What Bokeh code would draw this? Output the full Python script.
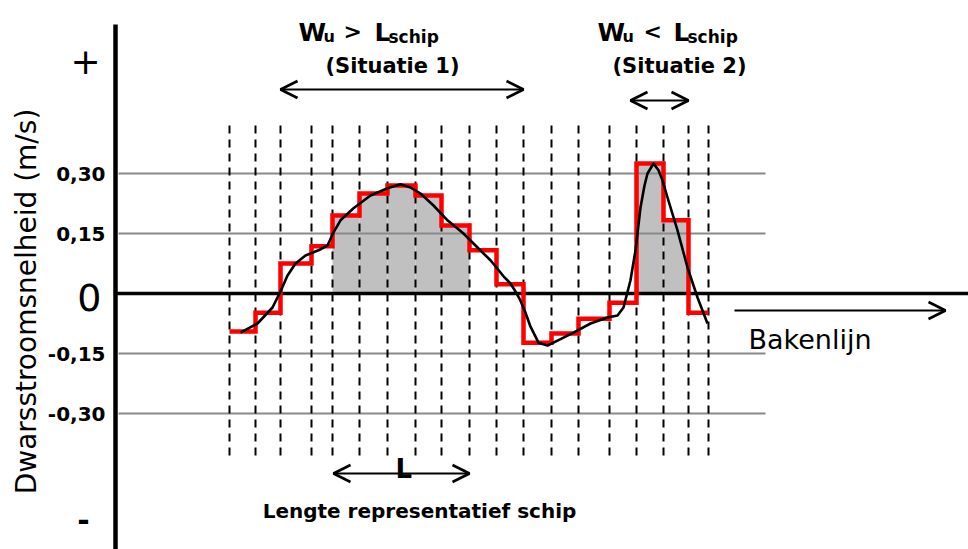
import math
from bokeh.plotting import figure
from bokeh.models import Range1d, Label, Arrow, OpenHead
from bokeh.core.properties import value
from bokeh.embed import file_html
from bokeh.resources import INLINE

# ---------------- data ----------------
# positions of the measurement verticals along the bakenlijn (arbitrary units)
stations = [0, 26, 51, 82, 103, 130, 158, 186, 212, 240, 267, 294, 322, 349, 380, 407, 434, 459, 479]
# mean cross-current per interval between verticals (m/s)
step_values = [-0.095, -0.048, 0.075, 0.118, 0.195, 0.25, 0.27, 0.245, 0.17, 0.108,
               0.023, -0.123, -0.10, -0.063, -0.023, 0.325, 0.183, -0.048]
# intervals shaded grey (situatie 1 and situatie 2)
shaded_intervals = [4, 5, 6, 7, 8, 15, 16]
# continuous cross-current profile
curve_x = [11, 28, 43, 51, 58, 66, 76, 89, 98, 104, 111, 124, 141, 158, 171, 181, 191, 204,
           218, 234, 248, 261, 274, 281, 286, 291, 296, 301, 309, 318, 328, 344, 361, 378,
           388, 394, 401, 406, 411, 415, 418, 424, 429, 433, 438, 448, 458, 468, 478]
curve_y = [-0.098, -0.075, -0.035, 0.005, 0.045, 0.075, 0.095, 0.108, 0.12, 0.153, 0.183,
           0.213, 0.245, 0.263, 0.273, 0.265, 0.25, 0.22, 0.183, 0.15, 0.115, 0.083, 0.043,
           0.025, 0.005, -0.018, -0.048, -0.083, -0.123, -0.13, -0.118, -0.098, -0.075,
           -0.06, -0.055, -0.035, 0.033, 0.108, 0.215, 0.27, 0.30, 0.325, 0.308, 0.283,
           0.24, 0.158, 0.065, -0.01, -0.075]
tick_values = [0.30, 0.15, -0.15, -0.30]
tick_labels = ["0,30", "0,15", "-0,15", "-0,30"]

# ---------------- layout helpers (pixel -> data) ----------------
W, H = 968, 549
X0 = 229      # pixel of first vertical
Z0 = 293      # pixel of zero line
K = 400.0     # pixels per m/s


def px(xp):
    return xp - X0


def py(yp):
    return (Z0 - yp) / K


FONT = "DejaVu Sans"

p = figure(width=W, height=H, output_backend="svg", toolbar_location=None,
           x_range=Range1d(px(0), px(W)), y_range=Range1d(py(H), py(0)),
           x_axis_location=None, y_axis_location=None, min_border=0)
p.grid.visible = False
p.outline_line_color = None
p.background_fill_color = "white"
p.border_fill_color = "white"

# grey shaded areas under the steps
p.quad(left=[stations[i] for i in shaded_intervals],
       right=[stations[i + 1] for i in shaded_intervals],
       bottom=[0] * len(shaded_intervals),
       top=[step_values[i] for i in shaded_intervals],
       fill_color="#c0c0c0", line_color=None)

# grid lines
p.segment(x0=[px(118)] * len(tick_values), x1=[px(765)] * len(tick_values),
          y0=tick_values, y1=tick_values, line_color="#8a8a8a", line_width=1.8)

# zero line (bakenlijn level)
p.segment(x0=[px(115)], x1=[px(W)], y0=[0], y1=[0], line_color="black", line_width=3.5)

# vertical axis
p.segment(x0=[px(115)], x1=[px(115)], y0=[py(24)], y1=[py(H)], line_color="black", line_width=4.5)

# dashed verticals
p.segment(x0=stations, x1=stations, y0=[py(125)] * len(stations), y1=[py(458)] * len(stations),
          line_color="black", line_width=2, line_dash="8 6")

# red step line
sx, sy = [], []
for i, v in enumerate(step_values):
    sx += [stations[i], stations[i + 1]]
    sy += [v, v]
p.line(sx, sy, line_color="#ff0000", line_width=4.5, line_join="miter")

# black smooth profile
p.line(curve_x, curve_y, line_color="black", line_width=2.6, line_join="round")

# y tick labels
p.text(x=[px(105)] * len(tick_values), y=tick_values, text=tick_labels,
       text_font=value(FONT), text_font_style="bold", text_font_size="20px",
       text_align="right", text_baseline="middle", text_color="black")


def lab(x, y, text, size, bold=False, align="left", baseline="alphabetic", angle=0.0):
    p.add_layout(Label(x=px(x), y=py(y), text=text, text_font=FONT,
                       text_font_size=f"{size}px",
                       text_font_style="bold" if bold else "normal",
                       text_align=align, text_baseline=baseline, angle=angle,
                       text_color="black"))


lab(101, 297, "0", 38, align="right", baseline="middle")
lab(85, 60, "+", 36, align="center", baseline="middle")
lab(83, 519, "-", 30, bold=True, align="center", baseline="middle")
lab(26, 301, "Dwarsstroomsnelheid (m/s)", 28, align="center", baseline="middle", angle=math.pi / 2)

# situatie 1 title
lab(298, 32, "W", 25, bold=True)
lab(323, 36, "u", 16, bold=True)
lab(343, 31, ">", 22, bold=True)
lab(374, 32, "L", 25, bold=True)
lab(388, 36, "schip", 17, bold=True)
lab(325, 65, "(Situatie 1)", 21, bold=True)
# situatie 2 title
lab(597, 32, "W", 25, bold=True)
lab(622, 36, "u", 16, bold=True)
lab(643, 31, "<", 22, bold=True)
lab(673, 32, "L", 25, bold=True)
lab(687, 36, "schip", 17, bold=True)
lab(612, 65, "(Situatie 2)", 21, bold=True)

lab(395, 468, "L", 26, bold=True)
lab(419, 510, "Lengte representatief schip", 20, bold=True, align="center")
lab(748, 339, "Bakenlijn", 27)


def arrow(x0, x1, y, both=True):
    p.add_layout(Arrow(start=OpenHead(size=17, line_width=2.6) if both else None,
                       end=OpenHead(size=17, line_width=2.6),
                       x_start=px(x0), y_start=py(y), x_end=px(x1), y_end=py(y),
                       line_width=2.2, line_color="black"))


arrow(280, 523, 89)
arrow(630, 688, 100)
arrow(333, 469, 473)
arrow(734, 945, 310, both=False)

open("out.html", "w").write(file_html(p, INLINE))
